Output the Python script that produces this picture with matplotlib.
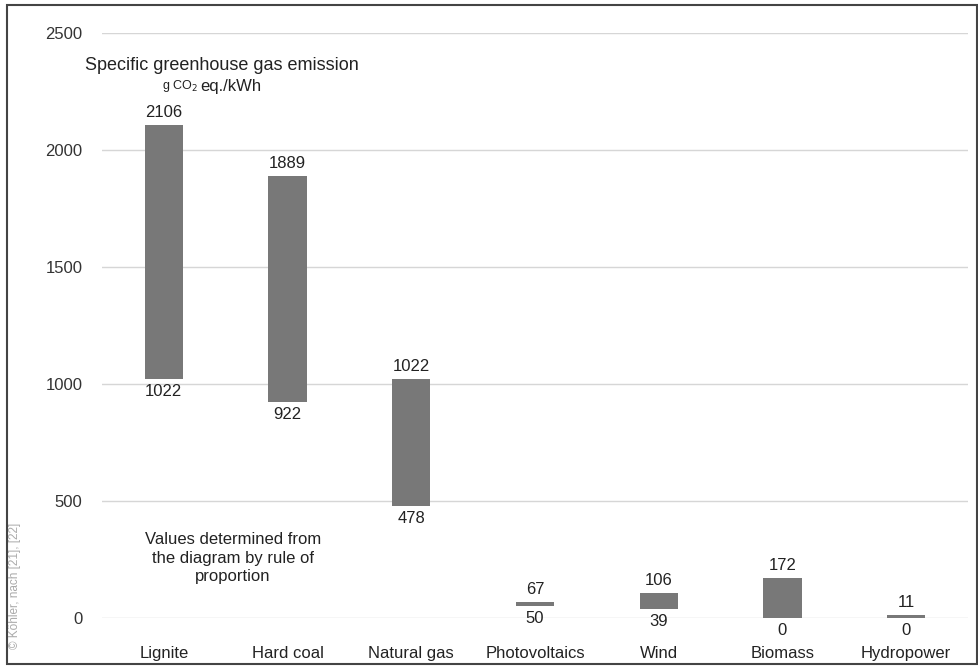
import numpy as np
import matplotlib.pyplot as plt
from matplotlib.patches import Rectangle

plt.rcParams['font.family'] = ['Liberation Sans', 'DejaVu Sans']

# data
sources = ['Lignite', 'Hard coal', 'Natural gas', 'Photovoltaics', 'Wind', 'Biomass', 'Hydropower']
low = [1022, 922, 478, 50, 39, 0, 0]
high = [2106, 1889, 1022, 67, 106, 172, 11]
yticks = [0, 500, 1000, 1500, 2000, 2500]

W, H = 979, 670
fig = plt.figure(figsize=(W / 100, H / 100), dpi=100)
ax = fig.add_axes([102 / W, 52 / H, 866 / W, 585 / H])

x = np.arange(len(sources))
heights = [h - l for h, l in zip(high, low)]
# very thin ranges still need to show as a line
heights = [max(h, 8) for h in heights]
ax.bar(x, heights, bottom=low, width=0.31, color='#787878', zorder=3)

for i in x:
    ax.text(i, high[i] + 22, str(high[i]), ha='center', va='bottom', fontsize=12, color='#222')
    ax.text(i, low[i] - 22, str(low[i]), ha='center', va='top', fontsize=12, color='#222')

ax.set_xlim(-0.5, len(sources) - 0.5)
ax.set_ylim(0, 2500)
ax.set_yticks(yticks)
ax.set_yticklabels([str(t) for t in yticks], fontsize=12, color='#333')
ax.set_xticks(x)
ax.set_xticklabels(sources, fontsize=12, color='#222')
ax.tick_params(axis='both', length=0)
ax.tick_params(axis='x', pad=20)
ax.tick_params(axis='y', pad=14)
ax.grid(axis='y', color='#d6d6d6', linewidth=1, zorder=0)
for s in ax.spines.values():
    s.set_visible(False)

# title inside plot
fig.text(222 / W, 1 - 66 / H, 'Specific greenhouse gas emission', ha='center', va='center',
         fontsize=13, color='#222')
fig.text(198 / W, 1 - 86 / H, 'g CO$_2$', ha='right', va='center', fontsize=9, color='#222')
fig.text(200 / W, 1 - 86 / H, 'eq./kWh', ha='left', va='center', fontsize=12, color='#222')

fig.text(233 / W, 1 - 558 / H, 'Values determined from\nthe diagram by rule of\nproportion',
         ha='center', va='center', fontsize=12, color='#222', linespacing=1.3)

fig.text(15 / W, 1 - 586 / H, '© Köhler, nach [21], [22]', rotation=90, ha='center', va='center',
         fontsize=8.5, color='#aaaaaa')

# frame around the figure
fig.patches.append(Rectangle((7 / W, 6 / H), 970 / W, 659 / H, transform=fig.transFigure,
                             fill=False, edgecolor='#444444', linewidth=1.5))

fig.savefig('out.png', dpi=100)
